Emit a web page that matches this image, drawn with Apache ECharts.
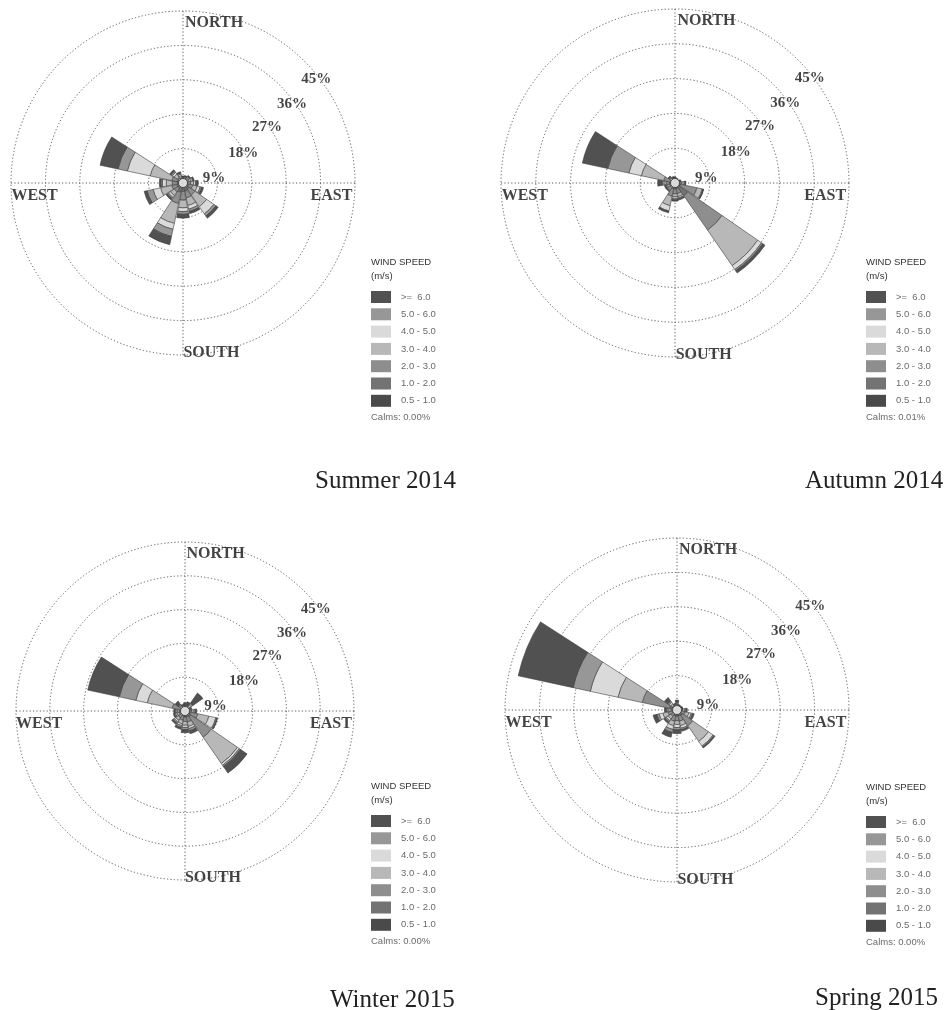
<!DOCTYPE html>
<html>
<head>
<meta charset="utf-8">
<script src="https://cdn.jsdelivr.net/npm/echarts@6/dist/echarts.min.js"></script>
<style>
  html, body { margin: 0; padding: 0; background: #ffffff; }
  #chart { width: 946px; height: 1010px; }
</style>
</head>
<body>
<div id="chart"></div>
<script>
// Sixteen compass sectors, clockwise from north
const directions = ['N', 'NNE', 'NE', 'ENE', 'E', 'ESE', 'SE', 'SSE',
                    'S', 'SSW', 'SW', 'WSW', 'W', 'WNW', 'NW', 'NNW'];

// Wind speed classes (m/s), innermost ring segment first
const speedClasses = ['0.5 - 1.0', '1.0 - 2.0', '2.0 - 3.0', '3.0 - 4.0',
                      '4.0 - 5.0', '5.0 - 6.0', '>=  6.0'];

// Radial ticks (%)
const ringValues = [9, 18, 27, 36, 45];
const ringLabels = ['9%', '18%', '27%', '36%', '45%'];
const cardinalLabels = ['NORTH', 'EAST', 'SOUTH', 'WEST'];

const seasonTitles = ['Summer 2014', 'Autumn 2014', 'Winter 2015', 'Spring 2015'];
const calmsValues = ['0.00%', '0.01%', '0.00%', '0.00%'];

// Frequency (%) per speed class (rows) and direction (columns)
const summer = [
  [0.3, 0.3, 0.3, 0.4, 0.5, 0.6, 0.8, 0.8, 0.8, 0.8, 0.6, 0.6, 0.5, 0.5, 0.4, 0.3],
  [0.5, 0.5, 0.5, 0.6, 0.7, 0.9, 1.2, 1.4, 1.4, 1.7, 1.0, 1.0, 0.9, 1.1, 0.6, 0.5],
  [0.4, 0.4, 0.5, 0.6, 0.8, 1.1, 1.8, 1.8, 2.3, 3.0, 1.2, 1.4, 1.4, 1.4, 0.8, 0.6],
  [0.3, 0.3, 0.5, 0.6, 0.8, 1.2, 3.7, 2.0, 2.0, 5.3, 1.2, 3.0, 1.6, 5.8, 1.0, 0.6],
  [0.1, 0.2, 0.2, 0.4, 0.5, 0.8, 2.3, 1.0, 1.0, 1.6, 0.6, 2.0, 1.0, 6.1, 0.6, 0.4],
  [0.1, 0.1, 0.2, 0.2, 0.3, 0.4, 0.7, 0.6, 0.7, 1.9, 0.4, 1.6, 0.4, 2.5, 0.4, 0.3],
  [0.1, 0.2, 0.2, 0.2, 0.4, 0.5, 0.7, 0.6, 1.0, 2.2, 0.4, 0.8, 0.4, 4.8, 0.4, 0.3]
];
const autumn = [
  [0.3, 0.2, 0.2, 0.3, 0.4, 0.4, 0.6, 0.5, 0.5, 0.5, 0.4, 0.4, 0.5, 0.4, 0.3, 0.3],
  [0.3, 0.3, 0.3, 0.3, 0.6, 1.1, 3.4, 1.0, 1.0, 1.0, 0.6, 0.5, 0.9, 0.8, 0.4, 0.3],
  [0.3, 0.3, 0.2, 0.4, 0.8, 4.3, 10.8, 1.3, 1.3, 2.0, 0.6, 0.6, 0.9, 1.8, 0.4, 0.3],
  [0.2, 0.2, 0.2, 0.3, 0.6, 1.4, 11.2, 0.8, 0.8, 2.5, 0.4, 0.5, 0.6, 5.9, 0.4, 0.3],
  [0.1, 0.1, 0.1, 0.1, 0.2, 0.2, 1.2, 0.4, 0.5, 1.4, 0.3, 0.3, 0.3, 3.3, 0.2, 0.2],
  [0.1, 0.1, 0.1, 0.1, 0.1, 0.1, 0.4, 0.2, 0.3, 0.2, 0.2, 0.2, 0.3, 5.6, 0.2, 0.1],
  [0.3, 0.1, 0.1, 0.1, 0.1, 0.1, 0.7, 0.3, 0.3, 0.3, 0.2, 0.3, 1.0, 6.7, 0.3, 0.2]
];
const winter = [
  [0.3, 0.3, 0.3, 0.3, 0.4, 0.5, 0.5, 0.6, 0.6, 0.5, 0.5, 0.4, 0.4, 0.4, 0.3, 0.3],
  [0.4, 0.3, 0.3, 0.3, 0.6, 1.0, 1.5, 1.0, 1.0, 0.9, 0.7, 0.6, 0.6, 0.8, 0.4, 0.3],
  [0.3, 0.4, 0.4, 0.4, 0.8, 2.0, 6.5, 1.4, 1.2, 1.1, 1.0, 0.6, 0.5, 2.3, 0.4, 0.3],
  [0.3, 0.3, 0.5, 0.3, 0.6, 3.0, 8.5, 1.2, 1.0, 1.0, 0.8, 0.6, 0.5, 6.8, 0.4, 0.3],
  [0.2, 0.2, 0.5, 0.2, 0.3, 1.9, 0.6, 0.6, 0.6, 0.5, 0.5, 0.4, 0.4, 3.1, 0.3, 0.2],
  [0.2, 0.2, 0.5, 0.2, 0.2, 0.3, 0.4, 0.6, 0.6, 0.5, 0.4, 0.3, 0.3, 4.5, 0.3, 0.2],
  [0.5, 0.8, 3.3, 0.2, 0.2, 0.2, 2.1, 0.8, 0.8, 0.5, 0.4, 0.3, 0.3, 8.6, 1.1, 0.3]
];
const spring = [
  [0.3, 0.2, 0.2, 0.3, 0.4, 0.5, 0.6, 0.6, 0.6, 0.6, 0.5, 0.5, 0.4, 0.5, 0.3, 0.3],
  [0.4, 0.3, 0.3, 0.3, 0.5, 0.7, 1.2, 1.0, 1.0, 1.0, 0.7, 0.7, 0.5, 1.5, 0.5, 0.3],
  [0.4, 0.3, 0.3, 0.3, 0.6, 1.0, 3.2, 1.4, 1.2, 1.4, 0.8, 1.2, 0.7, 7.3, 0.6, 0.3],
  [0.4, 0.2, 0.2, 0.3, 0.5, 1.0, 5.0, 1.2, 1.0, 1.2, 0.8, 1.4, 0.6, 6.5, 0.6, 0.3],
  [0.3, 0.2, 0.2, 0.2, 0.3, 0.6, 1.5, 0.7, 0.8, 1.0, 0.6, 1.0, 0.4, 7.4, 0.5, 0.2],
  [0.3, 0.1, 0.1, 0.1, 0.2, 0.4, 0.3, 0.4, 0.6, 0.8, 0.4, 0.6, 0.3, 4.6, 0.4, 0.2],
  [0.5, 0.2, 0.1, 0.1, 0.2, 0.4, 0.3, 0.4, 1.0, 1.3, 0.4, 1.0, 0.4, 14.7, 1.1, 0.2]
];
const seasons = [summer, autumn, winter, spring];

// Shades for each speed class, same order as speedClasses
const classColors = ['#4a4a4a', '#737373', '#8e8e8e', '#b8b8b8', '#dadada', '#979797', '#515151'];

// Placement of each rose, its legend block and its caption
const layout = [
  { center: [183, 183], radius: 172, legendLeft: 371, legendTop: 256, titleLeft: 315, titleTop: 468 },
  { center: [675, 183], radius: 174, legendLeft: 866, legendTop: 256, titleLeft: 805, titleTop: 468 },
  { center: [185, 711], radius: 169, legendLeft: 371, legendTop: 780, titleLeft: 330, titleTop: 987 },
  { center: [677, 710], radius: 172, legendLeft: 866, legendTop: 781, titleLeft: 815, titleTop: 985 }
];
// Label anchors in [radius %, compass degrees]
const ringLabelAnchors = [[8.2, 80.8], [17.6, 63.4], [26.4, 56.3], [35.2, 54.1], [44.2, 52.0]];
const cardinalAnchors = [[42.6, 11], [39.0, 95], [45.0, 170.5], [39.0, 265]];

const dotted = { color: '#5a5a5a', width: 1, type: [1.2, 2.2] };
const serifBold = { fontFamily: 'Liberation Serif', fontWeight: 'bold', color: '#141414' };
const legendNames = speedClasses.slice().reverse();

const polar = [], angleAxis = [], radiusAxis = [], series = [], legend = [], title = [];

layout.forEach((L, k) => {
  const barPolar = 2 * k, gridPolar = 2 * k + 1;
  polar.push({ center: L.center, radius: L.radius });
  polar.push({ center: L.center, radius: L.radius });

  // sector axes for the petals
  angleAxis.push({
    polarIndex: barPolar, type: 'category', data: directions,
    startAngle: 90 + 11.25, clockwise: true,
    axisLine: { show: false }, axisTick: { show: false },
    axisLabel: { show: false }, splitLine: { show: false }
  });
  radiusAxis.push({
    polarIndex: barPolar, type: 'value', min: 0, max: 45,
    axisLine: { show: false }, axisTick: { show: false },
    axisLabel: { show: false }, splitLine: { show: false }
  });

  // dotted rings and the N-S / E-W cross
  angleAxis.push({
    polarIndex: gridPolar, type: 'value', min: 0, max: 360, interval: 90,
    startAngle: 90, clockwise: true,
    axisLine: { show: false }, axisTick: { show: false },
    axisLabel: { show: false }, splitLine: { show: true, lineStyle: dotted }
  });
  radiusAxis.push({
    polarIndex: gridPolar, type: 'value', min: 0, max: 45, interval: 9,
    axisLine: { show: false }, axisTick: { show: false },
    axisLabel: { show: false }, splitLine: { show: true, lineStyle: dotted }
  });

  seasons[k].forEach((row, c) => {
    series.push({
      type: 'bar', name: speedClasses[c], coordinateSystem: 'polar',
      polarIndex: barPolar, stack: 'rose' + k, data: row,
      barCategoryGap: '8%',
      itemStyle: { color: classColors[c], borderColor: '#3c3c3c', borderWidth: 0.6 },
      silent: true, z: 2
    });
  });

  // percentage labels
  series.push({
    type: 'scatter', coordinateSystem: 'polar', polarIndex: gridPolar,
    symbolSize: 1, itemStyle: { color: 'rgba(0,0,0,0)' }, silent: true, z: 4,
    data: ringLabels.map((t, i) => ({ name: t, value: ringLabelAnchors[i] })),
    label: { show: true, position: 'inside', formatter: '{b}', fontSize: 15, ...serifBold }
  });
  // compass names
  series.push({
    type: 'scatter', coordinateSystem: 'polar', polarIndex: gridPolar,
    symbolSize: 1, itemStyle: { color: 'rgba(0,0,0,0)' }, silent: true, z: 4,
    data: cardinalLabels.map((t, i) => ({ name: t, value: cardinalAnchors[i] })),
    label: { show: true, position: 'inside', formatter: '{b}', fontSize: 16, ...serifBold }
  });
  // calms circle at the hub
  series.push({
    type: 'scatter', coordinateSystem: 'polar', polarIndex: gridPolar,
    symbol: 'circle', symbolSize: 9, silent: true, z: 5,
    itemStyle: { color: '#ffffff', borderColor: '#333', borderWidth: 1 },
    data: [[0, 0]]
  });

  legend.push({
    left: L.legendLeft, top: L.legendTop + 35, orient: 'vertical',
    padding: 0, itemWidth: 20, itemHeight: 12, itemGap: 5.3,
    icon: 'rect', selectedMode: false, data: legendNames,
    itemStyle: { borderWidth: 0 },
    textStyle: { fontFamily: 'Liberation Sans', fontSize: 9.5, color: '#6a6a6a',
                 lineHeight: 12, padding: [0, 0, 0, 5] }
  });

  title.push({
    text: 'WIND SPEED\n(m/s)', left: L.legendLeft, top: L.legendTop, padding: 0,
    textStyle: { fontFamily: 'Liberation Sans', fontSize: 9.5, fontWeight: 'normal',
                 color: '#333', lineHeight: 13.5 }
  });
  title.push({
    text: 'Calms: ' + calmsValues[k], left: L.legendLeft, top: L.legendTop + 156, padding: 0,
    textStyle: { fontFamily: 'Liberation Sans', fontSize: 9.5, fontWeight: 'normal', color: '#6a6a6a' }
  });
  title.push({
    text: seasonTitles[k], left: L.titleLeft, top: L.titleTop, padding: 0,
    textStyle: { fontFamily: 'Liberation Serif', fontSize: 25, fontWeight: 'normal',
                 color: '#222', lineHeight: 26 }
  });
});

const chart = echarts.init(document.getElementById('chart'), null, { renderer: 'canvas' });
chart.setOption({
  backgroundColor: '#ffffff',
  animation: false,
  title, legend, polar, angleAxis, radiusAxis, series
});
</script>
</body>
</html>
